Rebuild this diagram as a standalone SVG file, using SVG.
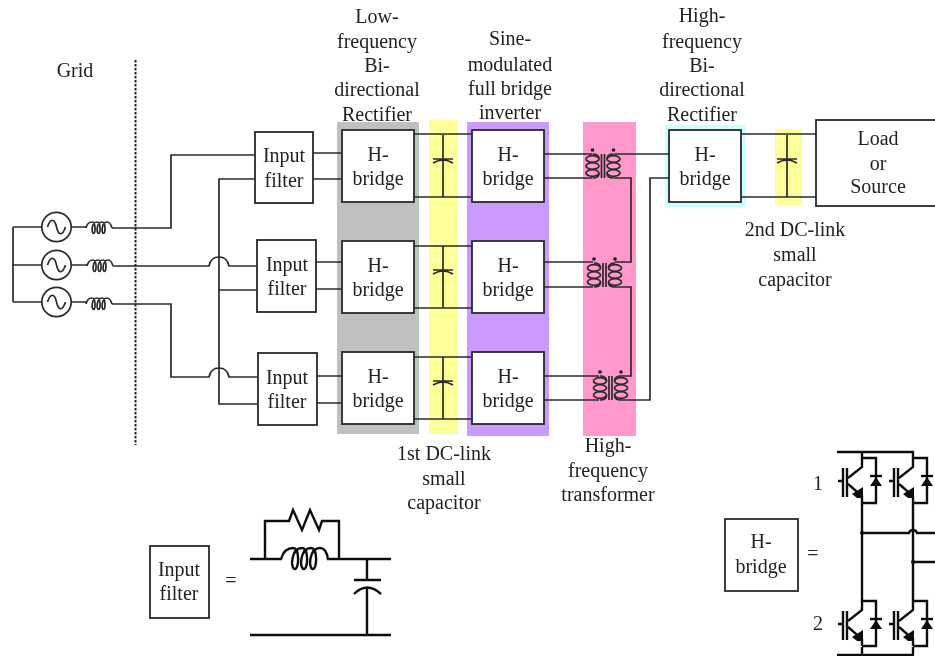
<svg xmlns="http://www.w3.org/2000/svg" width="935" height="656" viewBox="0 0 935 656">
<style>
text{font-family:"Liberation Serif","Times New Roman",serif;font-size:20px;fill:#222;text-anchor:middle}
.w,.b,.t{fill:none;stroke:#2a2a2a;stroke-width:1.7}
.b{fill:#fff;stroke-width:1.8}
.t{stroke-width:2.4;stroke:#111}
.k{fill:#111;stroke:none}
</style>
<defs>
<filter id="soft" filterUnits="userSpaceOnUse" x="0" y="0" width="935" height="656"><feGaussianBlur stdDeviation="0.55"/></filter>
<path id="ind" class="w" d="M0,0C1,-4.400 3.300,-6 6,-6C10,-6 9.500,5.500 7.700,5.500C5,5.500 5.500,-6 11,-6C15,-6 14.500,5.500 12.700,5.500C10,5.500 10.500,-6 16,-6C20,-6 19.500,5.500 17.600,5.500C15,5.500 15.500,-6 21,-6C23.600,-6 25,-3.300 26,0"/>
<g id="src" class="w"><circle r="14.7"/><path d="M-9,0C-6,-9 -2,-9 0,0C2,9 6,9 9,0"/></g>
<g id="cap" class="w"><path d="M0,0V62M-10,24H10M-10,28Q0,22 10,28"/></g>
<g id="coil" class="w"><path d="M0,0C4,0 6.500,2 6.500,5M6.500,19C6.500,22 4,24 0,24"/><ellipse cy="5" rx="6.500" ry="3.300"/><ellipse cy="12" rx="6.500" ry="3.300"/><ellipse cy="19" rx="6.500" ry="3.300"/></g>
<g id="xf">
<use href="#coil" x="-10.500"/>
<g transform="translate(10.500,0) scale(-1,1)"><use href="#coil"/></g>
<path class="w" d="M-1.500,0V24M1.500,0V24"/>
<circle class="k" cx="-10.500" cy="-4" r="1.800"/><circle class="k" cx="10.500" cy="-4" r="1.800"/>
</g>
<g id="igbt">
<path class="t" d="M0,-23H14V22H0M-14,-3L0,-14V-23M-14,3L0,15V22"/>
<path class="t" d="M-24,0H-20M-19,-13V16M-15,-13V16"/>
<path class="k" d="M1,17V6L-10,13L-5,17Z"/>
<path class="k" d="M8,5L14,-4L20,5Z"/>
<path class="t" d="M8,-5H20"/>
</g>
</defs>
<g filter="url(#soft)">
<rect width="935" height="656" fill="#fff"/>
<g id="bands">
<rect x="337" y="122" width="82" height="312" fill="#c0c0c0"/>
<rect x="429" y="120" width="29" height="314" fill="#ffff99"/>
<rect x="467" y="122" width="82" height="314" fill="#cc99ff"/>
<rect x="583" y="122" width="53" height="314" fill="#ff99cc"/>
<rect x="665" y="125" width="81" height="82" fill="#ccffff"/>
<rect x="775" y="129" width="27" height="76" fill="#ffff99"/>
</g>

<g id="connectors">
<path class="w" d="M13,227V302M13,227H42M13,265H42M13,302H42"/>
<path class="w" d="M71,227H86M71,265H87M71,302H86"/>
<path class="w" d="M112,228H171V155H255M113,266H209C210,261 213,257 219,257C225,257 228,261 229,266H257M112,304H171V377H209C210,372 213,368 219,368C225,368 228,372 229,377H258"/>
<path class="w" d="M255,179H219V404H258M219,290H257"/>
<path class="w" d="M313,153H342M313,179H342M316,262H342M316,289H342M317,376H342M317,403H342"/>
<path class="w" d="M414,134H472M414,197H472M414,246H472M414,308H472M414,357H472M414,419H472"/>
<path class="w" d="M544,154H592M544,178H592M544,262H593M544,287H593M544,376H599M544,400H599"/>
<path class="w" d="M614,154H669M614,178H631V262H615M615,287H631V376H621M621,400H650V178H669"/>
<path class="w" d="M741,134H816M741,197H816"/>
<use href="#cap" x="443" y="135"/><use href="#cap" x="443" y="246"/><use href="#cap" x="443" y="357"/>
<use href="#cap" x="787" y="135"/>
<use href="#xf" x="603" y="154"/><use href="#xf" x="604.500" y="263"/><use href="#xf" x="610.500" y="376"/>
<use href="#ind" x="86" y="228"/><use href="#ind" x="87" y="266"/><use href="#ind" x="86" y="304"/>
<path d="M135.500,60V445" fill="none" stroke="#222" stroke-width="2" stroke-dasharray="2.500 1.500"/>
</g>

<g id="sources"><use href="#src" x="56.500" y="227"/><use href="#src" x="56.500" y="265"/><use href="#src" x="56.500" y="302"/></g>
<text x="75" y="77">Grid</text>

<g id="filter1"><rect class="b" x="255" y="132" width="58" height="71"/><text x="284" y="162">Input</text><text x="284" y="187">filter</text></g>
<g id="filter2"><rect class="b" x="257" y="240" width="59" height="72"/><text x="287" y="271">Input</text><text x="287" y="295">filter</text></g>
<g id="filter3"><rect class="b" x="258" y="353" width="59" height="72"/><text x="287" y="384">Input</text><text x="287" y="408">filter</text></g>

<g id="h11"><rect class="b" x="342" y="130" width="72" height="72"/><text x="378" y="161">H-</text><text x="378" y="185">bridge</text></g>
<g id="h12"><rect class="b" x="342" y="241" width="72" height="72"/><text x="378" y="272">H-</text><text x="378" y="296">bridge</text></g>
<g id="h13"><rect class="b" x="342" y="352" width="72" height="72"/><text x="378" y="383">H-</text><text x="378" y="407">bridge</text></g>
<g id="h21"><rect class="b" x="472" y="130" width="72" height="72"/><text x="508" y="161">H-</text><text x="508" y="185">bridge</text></g>
<g id="h22"><rect class="b" x="472" y="241" width="72" height="72"/><text x="508" y="272">H-</text><text x="508" y="296">bridge</text></g>
<g id="h23"><rect class="b" x="472" y="352" width="72" height="72"/><text x="508" y="383">H-</text><text x="508" y="407">bridge</text></g>
<g id="h3"><rect class="b" x="669" y="130" width="72" height="72"/><text x="705" y="161">H-</text><text x="705" y="185">bridge</text></g>
<g id="load"><rect class="b" x="816" y="120" width="125" height="86"/><text x="878" y="145">Load</text><text x="878" y="170">or</text><text x="878" y="193">Source</text></g>

<g id="labels">
<text x="377" y="23">Low-</text><text x="377" y="48">frequency</text><text x="377" y="72">Bi-</text><text x="377" y="96">directional</text><text x="377" y="121">Rectifier</text>
<text x="510" y="45">Sine-</text><text x="510" y="71">modulated</text><text x="510" y="95">full bridge</text><text x="510" y="119">inverter</text>
<text x="702" y="22">High-</text><text x="702" y="48">frequency</text><text x="702" y="72">Bi-</text><text x="702" y="96">directional</text><text x="702" y="121">Rectifier</text>
<text x="795" y="236">2nd DC-link</text><text x="795" y="261">small</text><text x="795" y="286">capacitor</text>
<text x="444" y="460">1st DC-link</text><text x="444" y="485">small</text><text x="444" y="509">capacitor</text>
<text x="608" y="452">High-</text><text x="608" y="477">frequency</text><text x="608" y="501">transformer</text>
</g>

<g id="filter-legend">
<rect class="b" x="150" y="546" width="59" height="72"/><text x="179" y="576">Input</text><text x="179" y="600">filter</text>
<text x="231" y="587">=</text>
<path class="t" d="M250,559H281C283,552 287,548 293,548C300,548 299,569 295,569C290,569 291,548 302,548C309,548 308,569 304,569C299,569 300,548 311,548C318,548 317,569 313,569C308,569 309,548 320,548C325,548 327,553 328,559H391M265,559V521H289L293,510L302,530L310,510L319,530L322,521H339V559M367,559V580M354,580H381M354,594Q367,581 381,594M367,587V635M250,635H391"/>
</g>

<g id="hbridge-legend">
<rect class="b" x="725" y="519" width="73" height="72"/><text x="761" y="548">H-</text><text x="761" y="573">bridge</text>
<text x="813" y="560">=</text><text x="818" y="490">1</text><text x="818" y="630">2</text>
<path class="t" d="M837,452H914M862,452V458M913,452V458M862,503V601M913,503V601M862,647V655M913,647V655M837,655H914M862,533H909C910,529 916,529 917,533H935M913,562H935"/>
<circle class="k" cx="862" cy="533" r="2"/><circle class="k" cx="913" cy="562" r="2"/>
<use href="#igbt" x="862" y="481"/><use href="#igbt" x="913" y="481"/><use href="#igbt" x="862" y="624"/><use href="#igbt" x="913" y="624"/>
</g>
</g>
</svg>
